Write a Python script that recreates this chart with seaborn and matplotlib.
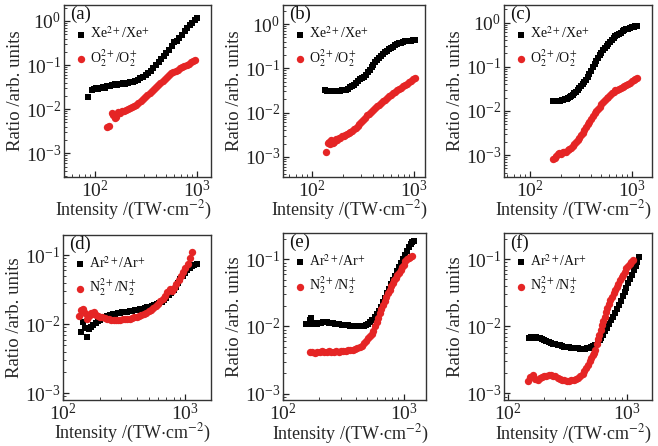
import matplotlib
matplotlib.use("Agg")
import matplotlib.pyplot as plt
from matplotlib.ticker import LogLocator, NullFormatter
import seaborn as sns
import pandas as pd

# ---- data (intensity in TW/cm^2, ratio in arb. units) ----
a_xe_x = [85, 93, 98, 103, 108, 113, 119, 125, 132, 140, 148, 157, 166, 176, 187, 198, 210, 222, 235, 249,
          264, 280, 297, 315, 334, 354, 375, 398, 422, 447, 474, 502, 532, 564, 598, 634, 672, 712, 755, 800,
          848, 899, 953, 1000]
a_xe_y = [0.019, 0.027, 0.029, 0.031, 0.028, 0.030, 0.032, 0.031, 0.033, 0.034, 0.035, 0.037, 0.036, 0.038,
          0.039, 0.038, 0.040, 0.041, 0.042, 0.044, 0.047, 0.050, 0.054, 0.059, 0.066, 0.074, 0.086, 0.100,
          0.115, 0.135, 0.160, 0.190, 0.225, 0.270, 0.330, 0.360, 0.410, 0.480, 0.580, 0.690, 0.800, 0.920,
          1.03, 1.15]
a_o2_x = [132, 138, 146, 151, 157, 163, 170, 177, 184, 192, 200, 210, 220, 231, 242, 254, 267, 281, 295, 310,
          326, 343, 360, 378, 397, 417, 438, 460, 483, 507, 533, 560, 588, 618, 649, 682, 716, 752, 790, 830,
          872, 916, 950]
a_o2_y = [0.0040, 0.0042, 0.0080, 0.0075, 0.0062, 0.0065, 0.0085, 0.0080, 0.0092, 0.0090, 0.0095, 0.0100,
          0.0105, 0.0110, 0.0118, 0.0127, 0.0140, 0.0155, 0.0168, 0.0185, 0.0205, 0.0230, 0.0255, 0.0280,
          0.0315, 0.0350, 0.0390, 0.0440, 0.0490, 0.0540, 0.0590, 0.0650, 0.0700, 0.0740, 0.0790, 0.0850,
          0.0900, 0.0950, 0.1000, 0.1080, 0.1160, 0.1250, 0.1320]

b_xe_x = [135, 140, 146, 152, 158, 165, 172, 180, 188, 196, 205, 214, 224, 234, 245, 256, 268, 280, 293, 306,
          320, 335, 350, 366, 383, 400, 418, 437, 457, 478, 500, 523, 547, 572, 598, 626, 655, 685, 716, 749,
          783, 819, 857, 896, 937, 980, 1030]
b_xe_y = [0.032, 0.031, 0.031, 0.030, 0.031, 0.030, 0.031, 0.031, 0.031, 0.032, 0.032, 0.033, 0.035, 0.037,
          0.040, 0.043, 0.047, 0.052, 0.058, 0.061, 0.065, 0.072, 0.082, 0.094, 0.108, 0.122, 0.142, 0.158,
          0.175, 0.192, 0.210, 0.228, 0.248, 0.268, 0.290, 0.310, 0.330, 0.350, 0.365, 0.380, 0.395, 0.405,
          0.415, 0.420, 0.425, 0.430, 0.430]
b_o2_x = [138, 142, 146, 150, 155, 160, 165, 171, 177, 183, 190, 197, 204, 212, 220, 229, 238, 248, 258, 269,
          280, 292, 305, 318, 332, 347, 362, 378, 395, 413, 432, 452, 473, 495, 518, 542, 567, 593, 621, 650,
          680, 712, 746, 781, 818, 857, 898, 941, 986, 1030]
b_o2_y = [0.0013, 0.0021, 0.0022, 0.0019, 0.0024, 0.0021, 0.0022, 0.0025, 0.0024, 0.0027, 0.0026, 0.0030,
          0.0029, 0.0031, 0.0032, 0.0034, 0.0036, 0.0039, 0.0042, 0.0045, 0.0050, 0.0055, 0.0061, 0.0068,
          0.0076, 0.0086, 0.0095, 0.0105, 0.0115, 0.0126, 0.0138, 0.0151, 0.0166, 0.0180, 0.0197, 0.0215,
          0.0234, 0.0255, 0.0275, 0.0298, 0.0322, 0.0340, 0.0360, 0.0390, 0.0420, 0.0450, 0.0480, 0.0520,
          0.0560, 0.0600]

c_xe_x = [169, 174, 180, 186, 192, 199, 206, 213, 221, 229, 237, 246, 255, 264, 274, 284, 295, 306, 318, 330,
          343, 356, 370, 384, 399, 414, 430, 447, 465, 483, 502, 522, 543, 565, 588, 612, 637, 663, 690, 718,
          748, 779, 811, 845, 880, 917, 955, 995, 1037, 1080, 1120]
c_xe_y = [0.0166, 0.0168, 0.0166, 0.0168, 0.0170, 0.0172, 0.0174, 0.0178, 0.0183, 0.0190, 0.0198, 0.0208,
          0.0220, 0.0235, 0.0253, 0.0275, 0.0300, 0.0330, 0.0365, 0.0405, 0.0455, 0.0515, 0.0590, 0.0680,
          0.0790, 0.098, 0.115, 0.138, 0.160, 0.185, 0.210, 0.240, 0.270, 0.300, 0.335, 0.370, 0.410, 0.450,
          0.490, 0.525, 0.560, 0.595, 0.630, 0.665, 0.700, 0.725, 0.750, 0.780, 0.800, 0.830, 0.840]
c_o2_x = [169, 175, 181, 188, 195, 202, 210, 218, 226, 235, 244, 253, 263, 273, 284, 295, 306, 318, 330, 343,
          356, 370, 384, 399, 414, 430, 447, 465, 483, 502, 522, 543, 565, 588, 612, 637, 663, 690, 718, 748,
          779, 811, 845, 880, 917, 955, 995, 1037, 1080, 1120]
c_o2_y = [0.00083, 0.00088, 0.00095, 0.00105, 0.00110, 0.00108, 0.00115, 0.00118, 0.00120, 0.00128, 0.00138,
          0.00148, 0.00160, 0.00178, 0.00200, 0.00225, 0.00250, 0.00285, 0.00325, 0.00370, 0.00430, 0.00500,
          0.00570, 0.00650, 0.00760, 0.00880, 0.00990, 0.0110, 0.0125, 0.0140, 0.0157, 0.0175, 0.0192,
          0.0210, 0.0230, 0.0250, 0.0272, 0.0293, 0.0300, 0.0318, 0.0335, 0.0352, 0.0370, 0.0390, 0.0415,
          0.0440, 0.0465, 0.0495, 0.0525, 0.0550]

d_ar_x = [140, 146, 152, 157, 163, 170, 177, 185, 193, 200, 210, 220, 231, 242, 254, 266, 279, 292, 306, 321,
          336, 352, 369, 387, 405, 424, 444, 465, 487, 510, 534, 559, 585, 612, 640, 670, 700, 732, 765, 800,
          836, 873, 912, 952, 994, 1038, 1083, 1130, 1180, 1240]
d_ar_y = [0.0076, 0.0106, 0.0088, 0.0066, 0.0085, 0.0092, 0.0098, 0.0105, 0.0112, 0.0115, 0.0122, 0.0128,
          0.0132, 0.0135, 0.0140, 0.0142, 0.0145, 0.0147, 0.0148, 0.0150, 0.0152, 0.0155, 0.0157, 0.0160,
          0.0163, 0.0165, 0.0168, 0.0172, 0.0175, 0.0178, 0.0182, 0.0187, 0.0193, 0.0200, 0.0210, 0.0225,
          0.0240, 0.0260, 0.0285, 0.0315, 0.0350, 0.0395, 0.0445, 0.0500, 0.0550, 0.0600, 0.0650, 0.0690,
          0.0720, 0.0730]
d_n2_x = [135, 141, 146, 152, 157, 163, 168, 174, 180, 187, 194, 202, 210, 219, 228, 238, 248, 259, 270, 282,
          294, 307, 321, 335, 350, 366, 383, 400, 418, 437, 457, 478, 500, 522, 546, 571, 597, 624, 652, 681,
          711, 742, 775, 809, 845, 882, 920, 960, 1000, 1045, 1090, 1140]
d_n2_y = [0.0130, 0.0160, 0.0165, 0.0145, 0.0118, 0.0130, 0.0145, 0.0140, 0.0150, 0.0138, 0.0130, 0.0125,
          0.0128, 0.0122, 0.0120, 0.0118, 0.0116, 0.0116, 0.0115, 0.0115, 0.0116, 0.0117, 0.0118, 0.0119,
          0.0120, 0.0122, 0.0125, 0.0128, 0.0132, 0.0136, 0.0141, 0.0147, 0.0154, 0.0162, 0.0172, 0.0183,
          0.0197, 0.0213, 0.0233, 0.0258, 0.0288, 0.0322, 0.0300, 0.0330, 0.0380, 0.0440, 0.0500, 0.0560,
          0.0640, 0.0750, 0.0900, 0.1100]

e_ar_x = [156, 162, 167, 172, 178, 184, 191, 198, 206, 214, 222, 231, 240, 250, 260, 271, 282, 294, 306, 319,
          333, 347, 362, 378, 394, 411, 429, 448, 468, 488, 509, 530, 552, 575, 598, 622, 647, 673, 700, 728,
          757, 787, 818, 850, 883, 917, 952, 988, 1025, 1063, 1102, 1142, 1183, 1220]
e_ar_y = [0.0110, 0.0108, 0.0125, 0.0133, 0.0110, 0.0112, 0.0110, 0.0112, 0.0113, 0.0115, 0.0118, 0.0117,
          0.0114, 0.0112, 0.0111, 0.0110, 0.0110, 0.0108, 0.0107, 0.0106, 0.0105, 0.0104, 0.0103, 0.0103,
          0.0102, 0.0102, 0.0101, 0.0101, 0.0102, 0.0104, 0.0108, 0.0115, 0.0125, 0.0137, 0.0152, 0.0172,
          0.0198, 0.0230, 0.0268, 0.0312, 0.0365, 0.0425, 0.0495, 0.0575, 0.0665, 0.0770, 0.0890, 0.102,
          0.118, 0.135, 0.152, 0.168, 0.180, 0.190]
e_n2_x = [167, 175, 183, 192, 201, 210, 220, 230, 241, 252, 264, 276, 289, 302, 316, 331, 346, 362, 379, 396,
          414, 433, 452, 472, 490, 508, 526, 544, 562, 580, 598, 617, 636, 656, 677, 698, 720, 742, 765, 789,
          813, 838, 864, 890, 917, 945, 974, 1004, 1035, 1067, 1100, 1140, 1180]
e_n2_y = [0.0041, 0.0041, 0.0040, 0.0042, 0.0041, 0.0043, 0.0042, 0.0042, 0.0043, 0.0042, 0.0042, 0.0043,
          0.0042, 0.0043, 0.0043, 0.0043, 0.0044, 0.0044, 0.0045, 0.0046, 0.0047, 0.0049, 0.0052, 0.0056,
          0.0061, 0.0067, 0.0072, 0.0078, 0.0087, 0.0100, 0.0115, 0.0135, 0.0158, 0.0180, 0.0208, 0.0240,
          0.0275, 0.0315, 0.0355, 0.0400, 0.0445, 0.0490, 0.0535, 0.0580, 0.0630, 0.0690, 0.0760, 0.0830,
          0.0950, 0.1000, 0.1050, 0.1100, 0.1140]

f_ar_x = [152, 158, 165, 172, 179, 186, 194, 202, 211, 220, 230, 240, 251, 262, 274, 286, 299, 313, 327, 342,
          357, 373, 390, 407, 425, 444, 463, 483, 503, 523, 544, 566, 588, 611, 635, 659, 684, 710, 737, 765,
          794, 824, 855, 887, 920, 954, 989, 1025, 1062, 1100, 1140, 1180, 1220, 1260]
f_ar_y = [0.0068, 0.0069, 0.0068, 0.0069, 0.0067, 0.0067, 0.0064, 0.0062, 0.0060, 0.0059, 0.0057, 0.0055,
          0.0054, 0.0053, 0.0052, 0.0051, 0.0050, 0.0049, 0.0049, 0.0048, 0.0048, 0.0047, 0.0047, 0.0046,
          0.0046, 0.0046, 0.0047, 0.0047, 0.0049, 0.0051, 0.0053, 0.0057, 0.0062, 0.0068, 0.0075, 0.0084,
          0.0095, 0.0108, 0.0123, 0.0140, 0.0160, 0.0183, 0.0210, 0.0242, 0.0280, 0.0325, 0.0378, 0.0440,
          0.0510, 0.0590, 0.0680, 0.0780, 0.0900, 0.1080]
f_n2_x = [148, 155, 163, 170, 178, 186, 194, 202, 211, 220, 230, 240, 251, 262, 274, 286, 299, 313, 327, 342,
          357, 373, 390, 407, 425, 440, 455, 470, 485, 500, 514, 528, 542, 556, 570, 585, 600, 615, 631, 648,
          666, 685, 705, 726, 748, 771, 795, 820, 846, 873, 901, 930, 960, 990, 1022, 1055, 1090, 1120]
f_n2_y = [0.00155, 0.00175, 0.00190, 0.00165, 0.00160, 0.00170, 0.00175, 0.00180, 0.00185, 0.00190, 0.00188,
          0.00185, 0.00180, 0.00172, 0.00165, 0.00160, 0.00158, 0.00156, 0.00155, 0.00157, 0.00160, 0.00165,
          0.00172, 0.00182, 0.00195, 0.00215, 0.00240, 0.00270, 0.00300, 0.00340, 0.00370, 0.00400, 0.00450,
          0.00550, 0.00640, 0.00750, 0.00880, 0.0104, 0.0122, 0.0140, 0.0162, 0.0188, 0.0215, 0.0244,
          0.0275, 0.0310, 0.0348, 0.0385, 0.0425, 0.0490, 0.0540, 0.0590, 0.0640, 0.0730, 0.0790, 0.0850,
          0.0910, 0.0970]

xe_label = r"Xe$^{2+}$/Xe$^{+}$"
o2_label = r"O$_2^{2+}$/O$_2^{+}$"
ar_label = r"Ar$^{2+}$/Ar$^{+}$"
n2_label = r"N$_2^{2+}$/N$_2^{+}$"

BLACK = "#000000"
RED = "#e52525"

sns.set_theme(style="ticks")
plt.rcParams['font.family'] = ['Liberation Serif', 'DejaVu Serif']
plt.rcParams['mathtext.fontset'] = 'stix'
plt.rcParams['axes.edgecolor'] = '#333333'
plt.rcParams['xtick.color'] = '#222222'
plt.rcParams['ytick.color'] = '#222222'
plt.rcParams['text.color'] = '#111111'

fig = plt.figure(figsize=(6.58, 4.46), dpi=100)
W, H = 658, 446

# (tag, left, right, top, bottom) in pixels, x-limits, y-limits, series
panels = [
    ("(a)", 64, 211, 5, 177, (50, 1370), (2.9e-4, 2.3),
     (a_xe_x, a_xe_y, xe_label), (a_o2_x, a_o2_y, o2_label)),
    ("(b)", 283, 425, 5, 177, (52, 1280), (3.5e-4, 2.7),
     (b_xe_x, b_xe_y, xe_label), (b_o2_x, b_o2_y, o2_label)),
    ("(c)", 504, 652, 5, 177, (56, 1570), (3.2e-4, 2.5),
     (c_xe_x, c_xe_y, xe_label), (c_o2_x, c_o2_y, o2_label)),
    ("(d)", 63, 211, 235, 400, (100, 1620), (8e-4, 0.195),
     (d_ar_x, d_ar_y, ar_label), (d_n2_x, d_n2_y, n2_label)),
    ("(e)", 283, 426, 233, 400, (100, 1535), (8e-4, 0.248),
     (e_ar_x, e_ar_y, ar_label), (e_n2_x, e_n2_y, n2_label)),
    ("(f)", 504, 652, 233, 400, (93, 1620), (8e-4, 0.245),
     (f_ar_x, f_ar_y, ar_label), (f_n2_x, f_n2_y, n2_label)),
]

for tag, l, r, t, b, xlim, ylim, s1, s2 in panels:
    ax = fig.add_axes([l / W, 1 - b / H, (r - l) / W, (b - t) / H])
    df1 = pd.DataFrame({"x": s1[0], "y": s1[1]})
    df2 = pd.DataFrame({"x": s2[0], "y": s2[1]})
    sns.scatterplot(data=df1, x="x", y="y", ax=ax, marker="s", color=BLACK, s=20,
                    linewidth=0, label=s1[2])
    sns.scatterplot(data=df2, x="x", y="y", ax=ax, marker="o", color=RED, s=28,
                    linewidth=0, label=s2[2])
    ax.set_xscale("log")
    ax.set_yscale("log")
    ax.set_xlim(*xlim)
    ax.set_ylim(*ylim)

    ax.xaxis.set_major_locator(LogLocator(base=10))
    ax.xaxis.set_minor_locator(LogLocator(base=10, subs=range(2, 10)))
    ax.xaxis.set_minor_formatter(NullFormatter())
    ax.yaxis.set_major_locator(LogLocator(base=10))
    ax.yaxis.set_minor_locator(LogLocator(base=10, subs=range(2, 10)))
    ax.yaxis.set_minor_formatter(NullFormatter())
    ax.tick_params(axis="both", which="major", direction="in", length=4, width=0.9,
                   labelsize=14, pad=2)
    ax.tick_params(axis="both", which="minor", direction="in", length=2.2, width=0.6)
    for sp in ax.spines.values():
        sp.set_linewidth(1.0)

    ax.set_xlabel(r"Intensity /(TW$\cdot$cm$^{-2}$)", fontsize=13, labelpad=0)
    ax.xaxis.set_label_coords(0.47, -0.13 if b < 200 else -0.135)
    ax.xaxis.label.set_va("top")
    ax.set_ylabel("Ratio /arb. units", fontsize=13.5, labelpad=1)

    ax.text(0.04, 0.995, tag, transform=ax.transAxes, va="top", ha="left", fontsize=13.5)
    ax.legend(loc="upper left", bbox_to_anchor=(0.0, 0.93), frameon=False, fontsize=10,
              handletextpad=0.05, labelspacing=0.45, borderaxespad=0.2, handlelength=1.2,
              markerscale=1.0)

fig.savefig("out.png", dpi=100)
